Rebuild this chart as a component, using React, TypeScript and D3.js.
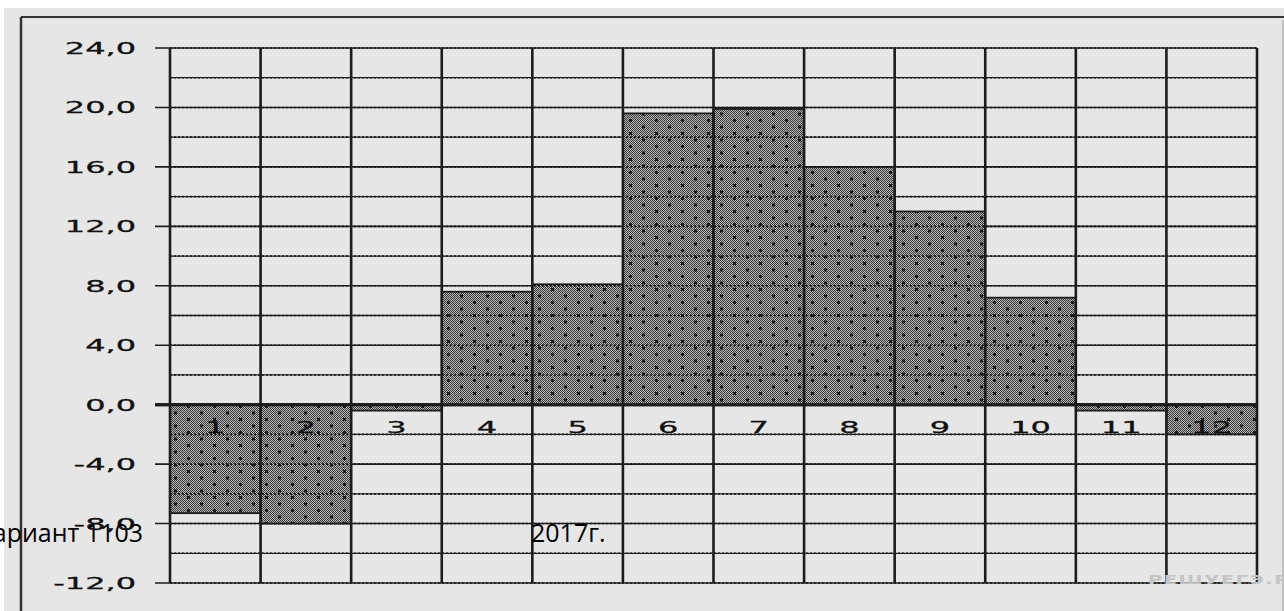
import React from 'react';
import { scaleBand, scaleLinear } from 'd3';

const months = ['1', '2', '3', '4', '5', '6', '7', '8', '9', '10', '11', '12'];
const values = [-7.3, -8.0, -0.4, 7.6, 8.1, 19.6, 19.9, 16.0, 13.0, 7.2, -0.4, -2.0];
const yMajor = [24, 20, 16, 12, 8, 4, 0, -4, -8, -12];
const yMajorLabels = ['24,0', '20,0', '16,0', '12,0', '8,0', '4,0', '0,0', '-4,0', '-8,0', '-12,0'];
const yMinor = [22, 18, 14, 10, 6, 2, -2, -6, -10];

const width = 1284;
const height = 611;
const margin = { top: 48, right: 27, bottom: 28, left: 170 };
const ink = '#1c1c1c';
const font = '"DejaVu Sans", Verdana, sans-serif';

const Yaxis = (props) => {
  const { yScale, x0, x1 } = props;
  return (
    <g>
      {yMinor.map(v => (
        <line key={'m' + v} x1={x0} x2={x1} y1={yScale(v)} y2={yScale(v)} stroke={ink} strokeWidth={1.3} />
      ))}
      {yMajor.map((v, i) => (
        <g key={v} transform={`translate(0, ${yScale(v)})`}>
          <line x1={x0 - 15} x2={x1} stroke={ink} strokeWidth={v === 0 ? 3 : 1.6} />
          <text
            transform={`translate(136, 6) scale(2, 1)`}
            textAnchor="end"
            style={{ fontSize: '16px', fontFamily: font }}
            fill="#111"
            stroke="#111"
            strokeWidth={0.3}
          >
            {yMajorLabels[i]}
          </text>
        </g>
      ))}
    </g>
  );
};

const App = () => {
  const xScale = scaleBand()
    .domain(months)
    .range([margin.left, width - margin.right])
    .padding(0);
  const yScale = scaleLinear()
    .domain([-12, 24])
    .range([height - margin.bottom, margin.top]);

  const edges = months.map(m => xScale(m)).concat([width - margin.right]);
  const bw = xScale.bandwidth();
  const y0 = yScale(0);

  return (
    <svg
      width={width}
      height={height}
      style={{ position: 'absolute', left: 0, top: 0, background: '#fff' }}
    >
      <defs>
        <pattern id="checker" width={2} height={2} patternUnits="userSpaceOnUse">
          <rect width={2} height={2} fill="#b4b4b4" />
          <rect width={1} height={1} fill="#3c3c3c" />
          <rect x={1} y={1} width={1} height={1} fill="#3c3c3c" />
        </pattern>
        <pattern id="dots" width={26} height={13} patternUnits="userSpaceOnUse">
          <rect x={5} y={2} width={3} height={3} fill="#1a1a1a" />
          <rect x={18} y={8.5} width={3} height={3} fill="#1a1a1a" />
        </pattern>
      </defs>

      {/* panel */}
      <rect x={4} y={8} width={width - 4} height={height - 8} fill="#e6e6e6" />
      <line x1={21} x2={width} y1={17} y2={17} stroke="#333" strokeWidth={2} />
      <line x1={21} x2={21} y1={17} y2={height} stroke="#333" strokeWidth={2.5} />
      <line x1={1283} x2={1283} y1={20} y2={height} stroke="#999" strokeWidth={1} />

      <Yaxis yScale={yScale} x0={margin.left} x1={width - margin.right} />

      {values.map((v, i) => {
        const x = xScale(months[i]);
        const top = Math.min(yScale(v), y0);
        const h = Math.abs(yScale(v) - y0);
        return (
          <g key={i}>
            <rect x={x} y={top} width={bw} height={h} fill="url(#checker)" />
            <rect x={x} y={top} width={bw} height={h} fill="url(#dots)" />
            <rect x={x} y={top} width={bw} height={h} fill="none" stroke={ink} strokeWidth={1.8} />
          </g>
        );
      })}

      {/* grid showing through the bars as dotted lines */}
      {yMajor.concat(yMinor).map(v => (
        <line
          key={'d' + v}
          x1={margin.left}
          x2={width - margin.right}
          y1={yScale(v)}
          y2={yScale(v)}
          stroke="#1a1a1a"
          strokeWidth={1.6}
          strokeDasharray="2,2"
        />
      ))}
      <line x1={margin.left - 15} x2={width - margin.right} y1={y0} y2={y0} stroke={ink} strokeWidth={3} />

      {edges.map((x, i) => (
        <line
          key={'v' + i}
          x1={x}
          x2={x}
          y1={margin.top}
          y2={height - margin.bottom}
          stroke={ink}
          strokeWidth={2.6}
        />
      ))}

      {months.map(m => (
        <text
          key={'l' + m}
          transform={`translate(${xScale(m) + bw / 2}, 433) scale(2, 1)`}
          textAnchor="middle"
          style={{ fontSize: '16px', fontFamily: font }}
          fill="#111"
          stroke="#111"
          strokeWidth={0.3}
        >
          {m}
        </text>
      ))}

      <text x={143} y={542} textAnchor="end" style={{ fontSize: '25px', fontFamily: '"Open Sans", sans-serif' }} fill="#000">
        Вариант 1103
      </text>
      <text x={531} y={542} style={{ fontSize: '25px', fontFamily: '"Open Sans", sans-serif' }} fill="#000">
        2017г.
      </text>
      <text
        transform="translate(1148, 584) scale(1.5, 1)"
        style={{ fontSize: '13px', fontFamily: font, fontWeight: 'bold', letterSpacing: '1px' }}
        fill="#c4c4c4"
      >
        РЕШУЕГЭ.РФ
      </text>
    </svg>
  );
};

export default App;
